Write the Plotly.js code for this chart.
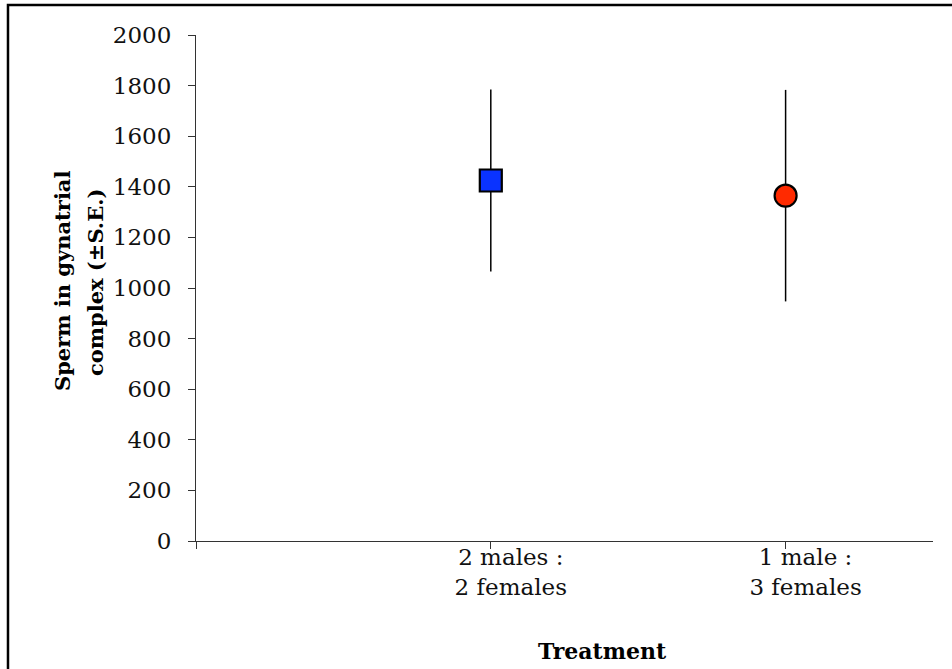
<!DOCTYPE html>
<html>
<head>
<meta charset="utf-8">
<script src="https://cdn.plot.ly/plotly-3.0.1.min.js"></script>
<style>
  html, body { margin: 0; padding: 0; background: #fff; }
  #chart { width: 952px; height: 669px; }
</style>
</head>
<body>
<div id="chart"></div>
<script>
// ---- data ----
const categories = ["2 males :<br>2 females", "1 male :<br>3 females"];
const xPositions = [1, 2];
const meanSperm = [1425, 1365];
const seSperm = [360, 418];
const markerSymbols = ["square", "circle"];
const markerColors = ["#0a33ff", "#ff2a00"];
const yTickVals = [0, 200, 400, 600, 800, 1000, 1200, 1400, 1600, 1800, 2000];
const yTitleLines = ["Sperm in gynatrial", "complex (±S.E.)"];
const xTitle = "Treatment";

const font = "DejaVu Serif";

const traces = categories.map((c, i) => ({
  type: "scatter",
  mode: "markers",
  name: c,
  x: [xPositions[i]],
  y: [meanSperm[i]],
  error_y: { type: "data", array: [seSperm[i]], visible: true, color: "#000", thickness: 1.5, width: 0 },
  marker: { symbol: markerSymbols[i], size: 22, color: markerColors[i], line: { color: "#000", width: 2.2 } },
  showlegend: false,
  hoverinfo: "skip"
}));

const layout = {
  width: 952,
  height: 669,
  margin: { l: 196, r: 19, t: 35, b: 128 },
  paper_bgcolor: "#fff",
  plot_bgcolor: "#fff",
  showlegend: false,
  font: { family: font, color: "#111" },
  xaxis: {
    range: [0, 2.5],
    tickmode: "array",
    tickvals: [0].concat(xPositions),
    ticktext: [""].concat(categories),
    ticks: "outside",
    ticklen: 7,
    tickwidth: 1,
    tickcolor: "#333",
    ticklabelshift: 20,
    ticklabelstandoff: -12,
    showline: true,
    linecolor: "#333",
    linewidth: 1,
    showgrid: false,
    zeroline: false,
    tickfont: { family: font, size: 23, color: "#111" }
  },
  yaxis: {
    range: [0, 2000],
    tickmode: "array",
    tickvals: yTickVals,
    ticktext: yTickVals.map(String),
    ticks: "outside",
    ticklen: 7,
    tickwidth: 1,
    tickcolor: "#333",
    ticklabelstandoff: 12,
    showline: true,
    linecolor: "#333",
    linewidth: 1,
    showgrid: false,
    zeroline: false,
    tickfont: { family: font, size: 23, color: "#111" }
  },
  annotations: [
    {
      text: "<b>" + yTitleLines[0] + "</b>", textangle: -90,
      xref: "paper", yref: "paper", x: (62 - 196) / 737, y: (541 - 281) / 506,
      xanchor: "center", yanchor: "middle", showarrow: false,
      font: { family: font, size: 21, color: "#000" }
    },
    {
      text: "<b>" + yTitleLines[1] + "</b>", textangle: -90,
      xref: "paper", yref: "paper", x: (95 - 196) / 737, y: (541 - 283) / 506,
      xanchor: "center", yanchor: "middle", showarrow: false,
      font: { family: font, size: 21, color: "#000" }
    },
    {
      text: "<b>" + xTitle + "</b>",
      xref: "paper", yref: "paper", x: (602 - 196) / 737, y: (541 - 651) / 506,
      xanchor: "center", yanchor: "middle", showarrow: false,
      font: { family: font, size: 22, color: "#000" }
    }
  ],
  shapes: [{
    type: "rect", xref: "paper", yref: "paper",
    x0: -0.2551, x1: 1.2, y0: -0.5, y1: 1.0593,
    line: { color: "#000", width: 2.5 }, fillcolor: "rgba(0,0,0,0)", layer: "above"
  }]
};

Plotly.newPlot("chart", traces, layout, { displayModeBar: false, staticPlot: true });
</script>
</body>
</html>
